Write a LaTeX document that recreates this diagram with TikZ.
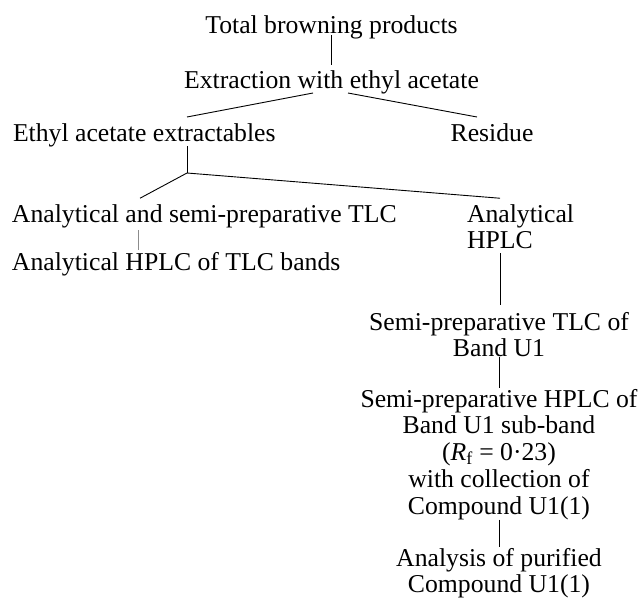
\documentclass[tikz,border=0pt]{standalone}
\usepackage{fontspec}
\setmainfont{Liberation Serif}
\usetikzlibrary{calc}
\begin{document}
\begin{tikzpicture}[x=1pt,y=-1pt,
  lbl/.style={inner sep=0pt, outer sep=0pt, font=\fontsize{25.7}{26.8}\selectfont},
  conn/.style={line width=0.9pt, black},
  faint/.style={line width=0.8pt, black!45}]
\useasboundingbox (0,0) rectangle (644,600);
\node[lbl, anchor=north] (tbp) at (331.5,14.24) {\strut Total browning products};
\node[lbl, anchor=north] (ext) at (331.5,69.24) {\strut Extraction with ethyl acetate};
\node[lbl, anchor=north west] (eae) at (13,122.74) {\strut Ethyl acetate extractables};
\node[lbl, anchor=north] (res) at (492,122.74) {\strut Residue};
\node[lbl, anchor=north west] (tlc) at (12,203.24) {\strut Analytical and semi-preparative TLC};
\node[lbl, anchor=north west, align=left] (ahplc) at (467,203.24) {\strut Analytical\\HPLC};
\node[lbl, anchor=north west] (hplctlc) at (12,251.24) {\strut Analytical HPLC of TLC bands};
\node[lbl, anchor=north, align=center] (sptlc) at (499,311.24) {\strut Semi-preparative TLC of\\Band U1};
\node[lbl, anchor=north, align=center] (sphplc) at (499,388.24) {\strut Semi-preparative HPLC of\\Band U1 sub-band\\(\textit{R}\textsubscript{f} = 0·23)\\with collection of\\Compound U1(1)};
\node[lbl, anchor=north, align=center] (anal) at (499,547.24) {\strut Analysis of purified\\Compound U1(1)};

\draw[conn] ($(tbp.base)+(0,2)$) -- ($(ext.base)+(0,-23)$);
\draw[conn] ($(ext.base)+(-18.5,5)$) -- ($(eae.base west)+(174,-24.5)$);
\draw[conn] ($(ext.base)+(16.5,5)$) -- ($(res.base)+(-15,-24.5)$);
\coordinate (j1) at ($(eae.base west)+(174,31.5)$);
\draw[conn] ($(eae.base west)+(174,4.5)$) -- (j1);
\draw[conn] ($(tlc.north west)+(128,-5)$) -- (j1) -- ($(ahplc.north west)+(33,-5)$);
\draw[faint] ($(tlc.base west)+(126,8)$) -- ($(hplctlc.base west)+(126,-20)$);
\draw[conn] ($(ahplc.north west)+(33,50)$) -- ($(sptlc.north)+(1,-6)$);
\draw[conn] (sptlc.south) -- (sphplc.north);
\draw[conn] (sphplc.south) -- (anal.north);
\end{tikzpicture}
\end{document}
